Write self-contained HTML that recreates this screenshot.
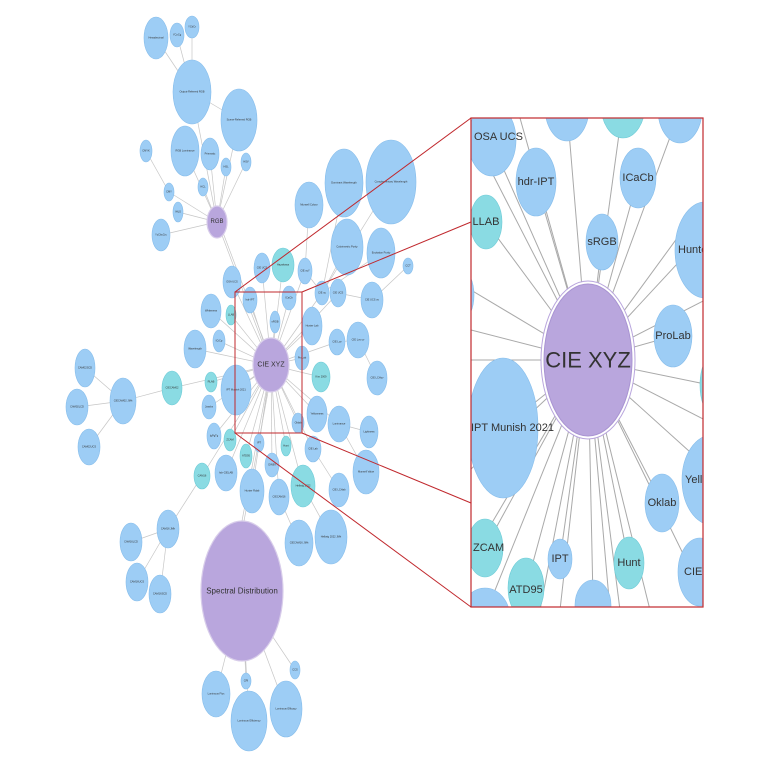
<!DOCTYPE html>
<html><head><meta charset="utf-8"><style>
html,body{margin:0;padding:0;background:#fff;}
svg{display:block;font-family:"Liberation Sans",sans-serif;}
.b{fill:#9dcdf5;stroke:#86bdeb;stroke-width:.6}
.t{fill:#8adbe3;stroke:#6ccbd6;stroke-width:.6}
.p{fill:#b9a6dd;stroke:#d8cdea;stroke-width:1.2}
.e line{stroke:#c6c6c6;stroke-width:.7}
.l{font-size:2.6px;fill:#333;text-anchor:middle;dominant-baseline:central}
.ie line{stroke:#a9a9a9;stroke-width:1}
.il{font-size:11px;fill:#333;text-anchor:middle;dominant-baseline:central}
</style></head><body>
<svg width="768" height="768" viewBox="0 0 768 768" xmlns="http://www.w3.org/2000/svg">
<rect width="768" height="768" fill="#fff"/>
<g class="e">
<line x1="192" y1="92" x2="156" y2="38"/><line x1="192" y1="92" x2="177" y2="35"/><line x1="192" y1="92" x2="192" y2="27"/>
<line x1="192" y1="92" x2="239" y2="120"/><line x1="192" y1="92" x2="217" y2="222"/><line x1="239" y1="120" x2="217" y2="222"/>
<line x1="217" y1="222" x2="185" y2="151"/><line x1="217" y1="222" x2="210" y2="154"/><line x1="217" y1="222" x2="226" y2="167"/>
<line x1="217" y1="222" x2="246" y2="162"/><line x1="217" y1="222" x2="169" y2="192"/><line x1="217" y1="222" x2="203" y2="187"/>
<line x1="217" y1="222" x2="178" y2="212"/><line x1="217" y1="222" x2="161" y2="235"/><line x1="169" y1="192" x2="146" y2="151"/>
<line x1="217" y1="222" x2="271" y2="365"/><line x1="219" y1="222" x2="273" y2="365"/>
<line x1="271" y1="365" x2="232" y2="282"/><line x1="271" y1="365" x2="262" y2="268"/><line x1="271" y1="365" x2="283" y2="265"/>
<line x1="271" y1="365" x2="305" y2="271"/><line x1="271" y1="365" x2="250" y2="300"/><line x1="271" y1="365" x2="289" y2="298"/>
<line x1="271" y1="365" x2="322" y2="293"/><line x1="271" y1="365" x2="338" y2="293"/><line x1="271" y1="365" x2="231" y2="315"/>
<line x1="271" y1="365" x2="275" y2="322"/><line x1="271" y1="365" x2="312" y2="326"/><line x1="271" y1="365" x2="219" y2="341"/>
<line x1="271" y1="365" x2="195" y2="349"/><line x1="271" y1="365" x2="211" y2="311"/><line x1="271" y1="365" x2="337" y2="342"/>
<line x1="271" y1="365" x2="302" y2="358"/><line x1="271" y1="365" x2="321" y2="377"/><line x1="271" y1="365" x2="211" y2="382"/>
<line x1="271" y1="365" x2="236" y2="390"/><line x1="271" y1="365" x2="209" y2="407"/><line x1="271" y1="365" x2="317" y2="414"/>
<line x1="271" y1="365" x2="339" y2="424"/><line x1="271" y1="365" x2="298" y2="423"/><line x1="271" y1="365" x2="214" y2="436"/>
<line x1="271" y1="365" x2="230" y2="440"/><line x1="271" y1="365" x2="259" y2="443"/><line x1="271" y1="365" x2="286" y2="446"/>
<line x1="271" y1="365" x2="313" y2="449"/><line x1="271" y1="365" x2="246" y2="456"/><line x1="271" y1="365" x2="272" y2="465"/>
<line x1="271" y1="365" x2="202" y2="476"/><line x1="271" y1="365" x2="226" y2="473"/><line x1="271" y1="365" x2="303" y2="486"/>
<line x1="271" y1="365" x2="252" y2="491"/><line x1="271" y1="365" x2="279" y2="497"/><line x1="271" y1="365" x2="172" y2="388"/>
<line x1="271" y1="365" x2="242" y2="521"/><line x1="273" y1="365" x2="244" y2="521"/>
<line x1="322" y1="293" x2="344" y2="183"/><line x1="322" y1="293" x2="391" y2="182"/><line x1="322" y1="293" x2="347" y2="247"/>
<line x1="322" y1="293" x2="381" y2="253"/><line x1="322" y1="293" x2="305" y2="271"/><line x1="305" y1="271" x2="309" y2="205"/>
<line x1="338" y1="293" x2="372" y2="300"/><line x1="372" y1="300" x2="408" y2="266"/><line x1="337" y1="342" x2="358" y2="340"/>
<line x1="358" y1="340" x2="377" y2="378"/><line x1="339" y1="424" x2="369" y2="432"/><line x1="339" y1="424" x2="366" y2="472"/>
<line x1="313" y1="449" x2="339" y2="490"/><line x1="303" y1="486" x2="331" y2="537"/><line x1="279" y1="497" x2="299" y2="543"/>
<line x1="172" y1="388" x2="123" y2="401"/><line x1="123" y1="401" x2="85" y2="368"/><line x1="123" y1="401" x2="77" y2="407"/>
<line x1="123" y1="401" x2="89" y2="447"/><line x1="202" y1="476" x2="168" y2="529"/><line x1="168" y1="529" x2="131" y2="542"/>
<line x1="168" y1="529" x2="137" y2="582"/><line x1="168" y1="529" x2="160" y2="594"/>
<line x1="242" y1="591" x2="216" y2="694"/><line x1="242" y1="591" x2="246" y2="681"/><line x1="242" y1="591" x2="249" y2="721"/>
<line x1="242" y1="591" x2="286" y2="709"/><line x1="242" y1="591" x2="295" y2="670"/>
</g>
<g>
<ellipse class="b" cx="156" cy="38" rx="12" ry="21"/><text class="l" x="156" y="38">Hexadecimal</text>
<ellipse class="b" cx="177" cy="35" rx="7" ry="12"/><text class="l" x="177" y="35">YCoCg</text>
<ellipse class="b" cx="192" cy="27" rx="7" ry="11"/><text class="l" x="192" y="27">YCbCr</text>
<ellipse class="b" cx="192" cy="92" rx="19" ry="32"/><text class="l" x="192" y="92">Output-Referred RGB</text>
<ellipse class="b" cx="239" cy="120" rx="18" ry="31"/><text class="l" x="239" y="120">Scene-Referred RGB</text>
<ellipse class="b" cx="185" cy="151" rx="14" ry="25"/><text class="l" x="185" y="151">RGB Luminance</text>
<ellipse class="b" cx="210" cy="154" rx="9" ry="16"/><text class="l" x="210" y="154">Prismatic</text>
<ellipse class="b" cx="226" cy="167" rx="5" ry="9"/><text class="l" x="226" y="167">HSL</text>
<ellipse class="b" cx="246" cy="162" rx="5" ry="9"/><text class="l" x="246" y="162">HSV</text>
<ellipse class="b" cx="146" cy="151" rx="6" ry="11"/><text class="l" x="146" y="151">CMYK</text>
<ellipse class="b" cx="169" cy="192" rx="5" ry="9"/><text class="l" x="169" y="192">CMY</text>
<ellipse class="b" cx="203" cy="187" rx="5" ry="9"/><text class="l" x="203" y="187">HCL</text>
<ellipse class="b" cx="178" cy="212" rx="5" ry="10"/><text class="l" x="178" y="212">IHLS</text>
<ellipse class="b" cx="161" cy="235" rx="9" ry="16"/><text class="l" x="161" y="235">YcCbcCrc</text>
<ellipse class="p" cx="217" cy="222" rx="10" ry="16"/><text class="l" style="font-size:6px" x="217" y="222">RGB</text>
<ellipse class="b" cx="309" cy="205" rx="14" ry="23"/><text class="l" x="309" y="205">Munsell Colour</text>
<ellipse class="b" cx="344" cy="183" rx="19" ry="34"/><text class="l" x="344" y="183">Dominant Wavelength</text>
<ellipse class="b" cx="391" cy="182" rx="25" ry="42"/><text class="l" x="391" y="182">Complementary Wavelength</text>
<ellipse class="b" cx="347" cy="247" rx="16" ry="28"/><text class="l" x="347" y="247">Colorimetric Purity</text>
<ellipse class="b" cx="381" cy="253" rx="14" ry="25"/><text class="l" x="381" y="253">Excitation Purity</text>
<ellipse class="b" cx="408" cy="266" rx="5" ry="8"/><text class="l" x="408" y="266">CCT</text>
<ellipse class="t" cx="283" cy="265" rx="11" ry="17"/><text class="l" x="283" y="265">Hayakawa</text>
<ellipse class="b" cx="262" cy="268" rx="8" ry="15"/><text class="l" x="262" y="268">CIE UCS</text>
<ellipse class="b" cx="305" cy="271" rx="7" ry="13"/><text class="l" x="305" y="271">CIE xyY</text>
<ellipse class="b" cx="232" cy="282" rx="9" ry="16"/><text class="l" x="232" y="282">OSA UCS</text>
<ellipse class="b" cx="250" cy="300" rx="7" ry="13"/><text class="l" x="250" y="300">hdr-IPT</text>
<ellipse class="b" cx="289" cy="298" rx="7" ry="12"/><text class="l" x="289" y="298">ICaCb</text>
<ellipse class="b" cx="322" cy="293" rx="7" ry="12"/><text class="l" x="322" y="293">CIE xy</text>
<ellipse class="b" cx="338" cy="293" rx="8" ry="14"/><text class="l" x="338" y="293">CIE UCS</text>
<ellipse class="b" cx="372" cy="300" rx="11" ry="18"/><text class="l" x="372" y="300">CIE UCS uv</text>
<ellipse class="b" cx="211" cy="311" rx="10" ry="17"/><text class="l" x="211" y="311">Whiteness</text>
<ellipse class="t" cx="231" cy="315" rx="5" ry="10"/><text class="l" x="231" y="315">LLAB</text>
<ellipse class="b" cx="275" cy="322" rx="5" ry="11"/><text class="l" x="275" y="322">sRGB</text>
<ellipse class="b" cx="312" cy="326" rx="10" ry="19"/><text class="l" x="312" y="326">Hunter Lab</text>
<ellipse class="b" cx="219" cy="341" rx="6" ry="11"/><text class="l" x="219" y="341">ICtCp</text>
<ellipse class="b" cx="195" cy="349" rx="11" ry="19"/><text class="l" x="195" y="349">Wavelength</text>
<ellipse class="b" cx="337" cy="342" rx="8" ry="13"/><text class="l" x="337" y="342">CIE Luv</text>
<ellipse class="b" cx="358" cy="340" rx="11" ry="18"/><text class="l" x="358" y="340">CIE Luv uv</text>
<ellipse class="b" cx="302" cy="358" rx="7" ry="12"/><text class="l" x="302" y="358">ProLab</text>
<ellipse class="t" cx="321" cy="377" rx="9" ry="15"/><text class="l" x="321" y="377">Kim 2009</text>
<ellipse class="b" cx="377" cy="378" rx="10" ry="17"/><text class="l" x="377" y="378">CIE LCHuv</text>
<ellipse class="b" cx="85" cy="368" rx="10" ry="19"/><text class="l" x="85" y="368">CAM02SCD</text>
<ellipse class="b" cx="123" cy="401" rx="13" ry="23"/><text class="l" x="123" y="401">CIECAM02 JMh</text>
<ellipse class="t" cx="172" cy="388" rx="10" ry="17"/><text class="l" x="172" y="388">CIECAM02</text>
<ellipse class="t" cx="211" cy="382" rx="6" ry="10"/><text class="l" x="211" y="382">RLAB</text>
<ellipse class="b" cx="236" cy="390" rx="15" ry="25"/><text class="l" x="236" y="390">IPT Munish 2021</text>
<ellipse class="b" cx="77" cy="407" rx="11" ry="18"/><text class="l" x="77" y="407">CAM02LCD</text>
<ellipse class="b" cx="89" cy="447" rx="11" ry="18"/><text class="l" x="89" y="447">CAM02UCS</text>
<ellipse class="b" cx="209" cy="407" rx="7" ry="12"/><text class="l" x="209" y="407">Jzazbz</text>
<ellipse class="b" cx="317" cy="414" rx="10" ry="18"/><text class="l" x="317" y="414">Yellowness</text>
<ellipse class="b" cx="339" cy="424" rx="11" ry="18"/><text class="l" x="339" y="424">Luminance</text>
<ellipse class="b" cx="369" cy="432" rx="9" ry="16"/><text class="l" x="369" y="432">Lightness</text>
<ellipse class="b" cx="298" cy="423" rx="6" ry="10"/><text class="l" x="298" y="423">Oklab</text>
<ellipse class="b" cx="214" cy="436" rx="7" ry="13"/><text class="l" x="214" y="436">IgPgTg</text>
<ellipse class="t" cx="230" cy="440" rx="6" ry="11"/><text class="l" x="230" y="440">ZCAM</text>
<ellipse class="b" cx="259" cy="443" rx="5" ry="9"/><text class="l" x="259" y="443">IPT</text>
<ellipse class="t" cx="286" cy="446" rx="5" ry="10"/><text class="l" x="286" y="446">Hunt</text>
<ellipse class="b" cx="313" cy="449" rx="8" ry="13"/><text class="l" x="313" y="449">CIE Lab</text>
<ellipse class="t" cx="246" cy="456" rx="6" ry="12"/><text class="l" x="246" y="456">ATD95</text>
<ellipse class="b" cx="366" cy="472" rx="13" ry="22"/><text class="l" x="366" y="472">Munsell Value</text>
<ellipse class="b" cx="272" cy="465" rx="7" ry="12"/><text class="l" x="272" y="465">DIN99</text>
<ellipse class="t" cx="202" cy="476" rx="8" ry="13"/><text class="l" x="202" y="476">CAM16</text>
<ellipse class="b" cx="226" cy="473" rx="11" ry="18"/><text class="l" x="226" y="473">hdr-CIELAB</text>
<ellipse class="t" cx="303" cy="486" rx="12" ry="21"/><text class="l" x="303" y="486">Hellwig 2022</text>
<ellipse class="b" cx="339" cy="490" rx="10" ry="17"/><text class="l" x="339" y="490">CIE LCHab</text>
<ellipse class="b" cx="252" cy="491" rx="12" ry="22"/><text class="l" x="252" y="491">Hunter Rdab</text>
<ellipse class="b" cx="279" cy="497" rx="10" ry="18"/><text class="l" x="279" y="497">CIECAM16</text>
<ellipse class="b" cx="168" cy="529" rx="11" ry="19"/><text class="l" x="168" y="529">CAM16 JMh</text>
<ellipse class="b" cx="131" cy="542" rx="11" ry="19"/><text class="l" x="131" y="542">CAM16LCD</text>
<ellipse class="b" cx="137" cy="582" rx="11" ry="19"/><text class="l" x="137" y="582">CAM16UCS</text>
<ellipse class="b" cx="160" cy="594" rx="11" ry="19"/><text class="l" x="160" y="594">CAM16SCD</text>
<ellipse class="b" cx="299" cy="543" rx="14" ry="23"/><text class="l" x="299" y="543">CIECAM16 JMh</text>
<ellipse class="b" cx="331" cy="537" rx="16" ry="27"/><text class="l" x="331" y="537">Hellwig 2022 JMh</text>
<ellipse class="p" cx="242" cy="591" rx="41" ry="70"/><text class="l" style="font-size:8px" x="242" y="591">Spectral Distribution</text>
<ellipse class="b" cx="295" cy="670" rx="5" ry="9"/><text class="l" x="295" y="670">CCS</text>
<ellipse class="b" cx="246" cy="681" rx="5" ry="8"/><text class="l" x="246" y="681">CRI</text>
<ellipse class="b" cx="216" cy="694" rx="14" ry="23"/><text class="l" x="216" y="694">Luminous Flux</text>
<ellipse class="b" cx="249" cy="721" rx="18" ry="30"/><text class="l" x="249" y="721">Luminous Efficiency</text>
<ellipse class="b" cx="286" cy="709" rx="16" ry="28"/><text class="l" x="286" y="709">Luminous Efficacy</text>
<ellipse class="p" cx="271" cy="365" rx="18" ry="27"/><text class="l" style="font-size:7px" x="271" y="365">CIE XYZ</text>
</g>
<defs><clipPath id="ic"><rect x="471" y="118" width="232" height="489"/></clipPath></defs>
<rect x="471" y="118" width="232" height="489" fill="#fff"/>
<g clip-path="url(#ic)">
<g class="ie">
<line x1="588" y1="360" x2="492" y2="143"/><line x1="588" y1="360" x2="567" y2="108"/><line x1="588" y1="360" x2="623" y2="105"/>
<line x1="588" y1="360" x2="680" y2="110"/><line x1="588" y1="360" x2="536" y2="182"/><line x1="588" y1="360" x2="638" y2="178"/>
<line x1="588" y1="360" x2="486" y2="222"/><line x1="588" y1="360" x2="602" y2="242"/><line x1="588" y1="360" x2="690" y2="250"/>
<line x1="588" y1="360" x2="673" y2="336"/><line x1="588" y1="360" x2="471" y2="290"/><line x1="588" y1="360" x2="471" y2="330"/>
<line x1="588" y1="360" x2="503" y2="428"/><line x1="588" y1="360" x2="710" y2="385"/><line x1="588" y1="360" x2="662" y2="503"/>
<line x1="588" y1="360" x2="710" y2="470"/><line x1="588" y1="360" x2="485" y2="548"/><line x1="588" y1="360" x2="560" y2="559"/>
<line x1="588" y1="360" x2="629" y2="563"/><line x1="588" y1="360" x2="692" y2="572"/><line x1="588" y1="360" x2="526" y2="588"/>
<line x1="588" y1="360" x2="593" y2="600"/><line x1="588" y1="360" x2="485" y2="615"/><line x1="588" y1="360" x2="470" y2="130"/>
<line x1="588" y1="360" x2="520" y2="118"/><line x1="588" y1="360" x2="705" y2="200"/><line x1="588" y1="360" x2="705" y2="300"/>
<line x1="588" y1="360" x2="470" y2="360"/><line x1="588" y1="360" x2="470" y2="470"/><line x1="588" y1="360" x2="470" y2="560"/>
<line x1="588" y1="360" x2="540" y2="610"/><line x1="588" y1="360" x2="560" y2="610"/><line x1="588" y1="360" x2="620" y2="610"/>
<line x1="588" y1="360" x2="650" y2="610"/><line x1="588" y1="360" x2="705" y2="420"/><line x1="588" y1="360" x2="610" y2="610"/>
</g>
<ellipse class="b" cx="492" cy="140" rx="24" ry="36"/><text class="il" x="474" y="137" style="text-anchor:start">OSA UCS</text>
<ellipse class="b" cx="567" cy="108" rx="22" ry="33"/>
<ellipse class="t" cx="623" cy="105" rx="22" ry="33"/>
<ellipse class="b" cx="680" cy="110" rx="22" ry="33"/>
<ellipse class="b" cx="536" cy="182" rx="20" ry="34"/><text class="il" x="536" y="182">hdr-IPT</text>
<ellipse class="b" cx="638" cy="178" rx="18" ry="30"/><text class="il" x="638" y="178">ICaCb</text>
<ellipse class="t" cx="486" cy="222" rx="16" ry="27"/><text class="il" x="486" y="222">LLAB</text>
<ellipse class="b" cx="602" cy="242" rx="16" ry="28"/><text class="il" x="602" y="242">sRGB</text>
<ellipse class="b" cx="705" cy="250" rx="30" ry="48"/><text class="il" x="678" y="250" style="text-anchor:start">Hunter</text>
<ellipse class="b" cx="673" cy="336" rx="19" ry="31"/><text class="il" x="673" y="336">ProLab</text>
<ellipse class="b" cx="462" cy="295" rx="12" ry="25"/>
<ellipse class="b" cx="503" cy="428" rx="35" ry="70"/><text class="il" x="471" y="428" style="text-anchor:start">IPT Munish 2021</text>
<ellipse class="t" cx="725" cy="385" rx="25" ry="40"/>
<ellipse class="b" cx="662" cy="503" rx="17" ry="29"/><text class="il" x="662" y="503">Oklab</text>
<ellipse class="b" cx="712" cy="480" rx="30" ry="45"/><text class="il" x="685" y="480" style="text-anchor:start">Yell</text>
<ellipse class="t" cx="485" cy="548" rx="18" ry="29"/><text class="il" x="473" y="548" style="text-anchor:start">ZCAM</text>
<ellipse class="b" cx="560" cy="559" rx="12" ry="20"/><text class="il" x="560" y="559">IPT</text>
<ellipse class="t" cx="629" cy="563" rx="15" ry="26"/><text class="il" x="629" y="563">Hunt</text>
<ellipse class="b" cx="700" cy="572" rx="22" ry="34"/><text class="il" x="684" y="572" style="text-anchor:start">CIE L</text>
<ellipse class="t" cx="526" cy="588" rx="18" ry="30"/><text class="il" x="526" y="590">ATD95</text>
<ellipse class="b" cx="593" cy="605" rx="18" ry="25"/>
<ellipse class="b" cx="485" cy="618" rx="25" ry="30"/>
<ellipse cx="588" cy="360" rx="47" ry="79" fill="#fff" stroke="#b9a6dd" stroke-width="1"/>
<ellipse cx="588" cy="360" rx="44" ry="76" fill="#b9a6dd" stroke="#a994d2" stroke-width="1"/>
<text class="il" x="588" y="360" style="font-size:22px">CIE XYZ</text>
</g>
<rect x="471" y="118" width="232" height="489" fill="none" stroke="#c0282d" stroke-width="1.2"/>
<rect x="235" y="292" width="67" height="141" fill="none" stroke="#c0282d" stroke-width="1"/>
<g stroke="#c0282d" stroke-width="1">
<line x1="235" y1="292" x2="471" y2="118"/><line x1="302" y1="292" x2="471" y2="222"/>
<line x1="235" y1="433" x2="471" y2="607"/><line x1="302" y1="433" x2="471" y2="503"/>
</g>
</svg>
</body></html>
